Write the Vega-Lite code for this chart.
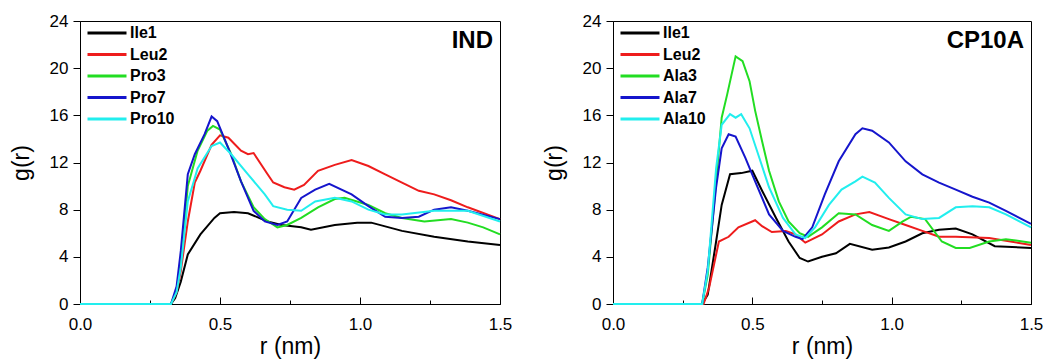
{
  "$schema": "https://vega.github.io/schema/vega-lite/v6.json",
  "padding": {"left": 9, "top": 11, "right": 0, "bottom": 0},
  "background": "#ffffff",
  "datasets": {
    "ind": [
      {"residue":"Ile1","r":0,"g":0},{"residue":"Ile1","r":0.325,"g":0},{"residue":"Ile1","r":0.34,"g":0.5},{"residue":"Ile1","r":0.36,"g":1.9},{"residue":"Ile1","r":0.385,"g":4.2},{"residue":"Ile1","r":0.43,"g":5.9},{"residue":"Ile1","r":0.48,"g":7.3},{"residue":"Ile1","r":0.5,"g":7.7},{"residue":"Ile1","r":0.55,"g":7.8},{"residue":"Ile1","r":0.6,"g":7.7},{"residue":"Ile1","r":0.67,"g":7.0},{"residue":"Ile1","r":0.72,"g":6.7},{"residue":"Ile1","r":0.79,"g":6.5},{"residue":"Ile1","r":0.825,"g":6.3},{"residue":"Ile1","r":0.91,"g":6.7},{"residue":"Ile1","r":0.99,"g":6.9},{"residue":"Ile1","r":1.04,"g":6.9},{"residue":"Ile1","r":1.15,"g":6.2},{"residue":"Ile1","r":1.265,"g":5.7},{"residue":"Ile1","r":1.385,"g":5.3},{"residue":"Ile1","r":1.5,"g":5.0},
      {"residue":"Leu2","r":0,"g":0},{"residue":"Leu2","r":0.325,"g":0},{"residue":"Leu2","r":0.345,"g":1.0},{"residue":"Leu2","r":0.36,"g":2.8},{"residue":"Leu2","r":0.385,"g":7.0},{"residue":"Leu2","r":0.41,"g":10.3},{"residue":"Leu2","r":0.43,"g":11.3},{"residue":"Leu2","r":0.47,"g":13.5},{"residue":"Leu2","r":0.5,"g":14.3},{"residue":"Leu2","r":0.53,"g":14.1},{"residue":"Leu2","r":0.575,"g":13.0},{"residue":"Leu2","r":0.6,"g":12.7},{"residue":"Leu2","r":0.62,"g":12.8},{"residue":"Leu2","r":0.67,"g":11.0},{"residue":"Leu2","r":0.69,"g":10.3},{"residue":"Leu2","r":0.73,"g":9.9},{"residue":"Leu2","r":0.765,"g":9.7},{"residue":"Leu2","r":0.8,"g":10.1},{"residue":"Leu2","r":0.85,"g":11.3},{"residue":"Leu2","r":0.91,"g":11.8},{"residue":"Leu2","r":0.97,"g":12.2},{"residue":"Leu2","r":1.03,"g":11.7},{"residue":"Leu2","r":1.09,"g":11.0},{"residue":"Leu2","r":1.15,"g":10.3},{"residue":"Leu2","r":1.21,"g":9.6},{"residue":"Leu2","r":1.265,"g":9.3},{"residue":"Leu2","r":1.325,"g":8.8},{"residue":"Leu2","r":1.385,"g":8.2},{"residue":"Leu2","r":1.5,"g":7.2},
      {"residue":"Pro3","r":0,"g":0},{"residue":"Pro3","r":0.325,"g":0},{"residue":"Pro3","r":0.345,"g":1.2},{"residue":"Pro3","r":0.36,"g":3.6},{"residue":"Pro3","r":0.385,"g":10.0},{"residue":"Pro3","r":0.42,"g":13.0},{"residue":"Pro3","r":0.455,"g":14.7},{"residue":"Pro3","r":0.475,"g":15.1},{"residue":"Pro3","r":0.5,"g":14.8},{"residue":"Pro3","r":0.54,"g":12.7},{"residue":"Pro3","r":0.575,"g":10.4},{"residue":"Pro3","r":0.62,"g":8.2},{"residue":"Pro3","r":0.66,"g":7.2},{"residue":"Pro3","r":0.705,"g":6.5},{"residue":"Pro3","r":0.74,"g":6.7},{"residue":"Pro3","r":0.79,"g":7.3},{"residue":"Pro3","r":0.85,"g":8.2},{"residue":"Pro3","r":0.91,"g":8.9},{"residue":"Pro3","r":0.945,"g":9.0},{"residue":"Pro3","r":1.03,"g":8.4},{"residue":"Pro3","r":1.09,"g":7.7},{"residue":"Pro3","r":1.15,"g":7.3},{"residue":"Pro3","r":1.23,"g":7.0},{"residue":"Pro3","r":1.325,"g":7.2},{"residue":"Pro3","r":1.385,"g":6.9},{"residue":"Pro3","r":1.44,"g":6.5},{"residue":"Pro3","r":1.5,"g":5.9},
      {"residue":"Pro7","r":0,"g":0},{"residue":"Pro7","r":0.325,"g":0},{"residue":"Pro7","r":0.345,"g":1.5},{"residue":"Pro7","r":0.36,"g":4.5},{"residue":"Pro7","r":0.385,"g":11.0},{"residue":"Pro7","r":0.41,"g":12.7},{"residue":"Pro7","r":0.445,"g":14.4},{"residue":"Pro7","r":0.47,"g":15.9},{"residue":"Pro7","r":0.49,"g":15.5},{"residue":"Pro7","r":0.53,"g":13.2},{"residue":"Pro7","r":0.575,"g":10.4},{"residue":"Pro7","r":0.62,"g":7.9},{"residue":"Pro7","r":0.66,"g":7.0},{"residue":"Pro7","r":0.705,"g":6.7},{"residue":"Pro7","r":0.74,"g":7.0},{"residue":"Pro7","r":0.79,"g":9.0},{"residue":"Pro7","r":0.84,"g":9.7},{"residue":"Pro7","r":0.89,"g":10.2},{"residue":"Pro7","r":0.97,"g":9.3},{"residue":"Pro7","r":1.03,"g":8.3},{"residue":"Pro7","r":1.09,"g":7.4},{"residue":"Pro7","r":1.15,"g":7.3},{"residue":"Pro7","r":1.21,"g":7.4},{"residue":"Pro7","r":1.265,"g":8.0},{"residue":"Pro7","r":1.325,"g":8.2},{"residue":"Pro7","r":1.385,"g":7.9},{"residue":"Pro7","r":1.5,"g":7.2},
      {"residue":"Pro10","r":0,"g":0},{"residue":"Pro10","r":0.325,"g":0},{"residue":"Pro10","r":0.345,"g":1.0},{"residue":"Pro10","r":0.36,"g":3.1},{"residue":"Pro10","r":0.385,"g":8.7},{"residue":"Pro10","r":0.42,"g":11.5},{"residue":"Pro10","r":0.47,"g":13.4},{"residue":"Pro10","r":0.5,"g":13.7},{"residue":"Pro10","r":0.54,"g":12.7},{"residue":"Pro10","r":0.6,"g":11.0},{"residue":"Pro10","r":0.66,"g":9.3},{"residue":"Pro10","r":0.69,"g":8.3},{"residue":"Pro10","r":0.74,"g":8.0},{"residue":"Pro10","r":0.79,"g":7.9},{"residue":"Pro10","r":0.84,"g":8.7},{"residue":"Pro10","r":0.91,"g":9.0},{"residue":"Pro10","r":0.97,"g":8.7},{"residue":"Pro10","r":1.03,"g":8.0},{"residue":"Pro10","r":1.09,"g":7.6},{"residue":"Pro10","r":1.15,"g":7.6},{"residue":"Pro10","r":1.265,"g":7.9},{"residue":"Pro10","r":1.385,"g":7.9},{"residue":"Pro10","r":1.5,"g":7.0}
    ],
    "cp10a": [
      {"residue":"Ile1","r":0,"g":0},{"residue":"Ile1","r":0.32,"g":0},{"residue":"Ile1","r":0.34,"g":0.8},{"residue":"Ile1","r":0.37,"g":5.3},{"residue":"Ile1","r":0.39,"g":8.4},{"residue":"Ile1","r":0.42,"g":11.0},{"residue":"Ile1","r":0.46,"g":11.1},{"residue":"Ile1","r":0.5,"g":11.3},{"residue":"Ile1","r":0.535,"g":9.6},{"residue":"Ile1","r":0.585,"g":7.3},{"residue":"Ile1","r":0.63,"g":5.3},{"residue":"Ile1","r":0.67,"g":3.9},{"residue":"Ile1","r":0.7,"g":3.6},{"residue":"Ile1","r":0.75,"g":4.0},{"residue":"Ile1","r":0.8,"g":4.3},{"residue":"Ile1","r":0.85,"g":5.1},{"residue":"Ile1","r":0.93,"g":4.6},{"residue":"Ile1","r":0.99,"g":4.8},{"residue":"Ile1","r":1.05,"g":5.3},{"residue":"Ile1","r":1.11,"g":6.0},{"residue":"Ile1","r":1.17,"g":6.3},{"residue":"Ile1","r":1.23,"g":6.4},{"residue":"Ile1","r":1.29,"g":5.9},{"residue":"Ile1","r":1.37,"g":4.9},{"residue":"Ile1","r":1.5,"g":4.75},
      {"residue":"Leu2","r":0,"g":0},{"residue":"Leu2","r":0.325,"g":0},{"residue":"Leu2","r":0.345,"g":1.4},{"residue":"Leu2","r":0.38,"g":5.3},{"residue":"Leu2","r":0.415,"g":5.7},{"residue":"Leu2","r":0.45,"g":6.5},{"residue":"Leu2","r":0.51,"g":7.1},{"residue":"Leu2","r":0.535,"g":6.6},{"residue":"Leu2","r":0.57,"g":6.1},{"residue":"Leu2","r":0.62,"g":6.2},{"residue":"Leu2","r":0.655,"g":5.9},{"residue":"Leu2","r":0.69,"g":5.2},{"residue":"Leu2","r":0.75,"g":5.9},{"residue":"Leu2","r":0.81,"g":7.0},{"residue":"Leu2","r":0.87,"g":7.6},{"residue":"Leu2","r":0.92,"g":7.8},{"residue":"Leu2","r":0.99,"g":7.2},{"residue":"Leu2","r":1.05,"g":6.7},{"residue":"Leu2","r":1.11,"g":6.2},{"residue":"Leu2","r":1.17,"g":5.7},{"residue":"Leu2","r":1.23,"g":5.7},{"residue":"Leu2","r":1.35,"g":5.6},{"residue":"Leu2","r":1.5,"g":5.0},
      {"residue":"Ala3","r":0,"g":0},{"residue":"Ala3","r":0.32,"g":0},{"residue":"Ala3","r":0.34,"g":2.5},{"residue":"Ala3","r":0.37,"g":10.4},{"residue":"Ala3","r":0.39,"g":15.8},{"residue":"Ala3","r":0.41,"g":17.8},{"residue":"Ala3","r":0.44,"g":21.0},{"residue":"Ala3","r":0.465,"g":20.6},{"residue":"Ala3","r":0.49,"g":18.9},{"residue":"Ala3","r":0.51,"g":16.4},{"residue":"Ala3","r":0.535,"g":13.8},{"residue":"Ala3","r":0.56,"g":11.3},{"residue":"Ala3","r":0.595,"g":8.7},{"residue":"Ala3","r":0.63,"g":7.0},{"residue":"Ala3","r":0.67,"g":6.0},{"residue":"Ala3","r":0.7,"g":5.7},{"residue":"Ala3","r":0.75,"g":6.5},{"residue":"Ala3","r":0.81,"g":7.7},{"residue":"Ala3","r":0.87,"g":7.6},{"residue":"Ala3","r":0.93,"g":6.7},{"residue":"Ala3","r":0.99,"g":6.2},{"residue":"Ala3","r":1.04,"g":7.0},{"residue":"Ala3","r":1.07,"g":7.4},{"residue":"Ala3","r":1.12,"g":7.2},{"residue":"Ala3","r":1.18,"g":5.3},{"residue":"Ala3","r":1.23,"g":4.75},{"residue":"Ala3","r":1.28,"g":4.75},{"residue":"Ala3","r":1.35,"g":5.3},{"residue":"Ala3","r":1.41,"g":5.5},{"residue":"Ala3","r":1.5,"g":5.2},
      {"residue":"Ala7","r":0,"g":0},{"residue":"Ala7","r":0.32,"g":0},{"residue":"Ala7","r":0.34,"g":3.1},{"residue":"Ala7","r":0.37,"g":9.9},{"residue":"Ala7","r":0.39,"g":13.2},{"residue":"Ala7","r":0.415,"g":14.4},{"residue":"Ala7","r":0.44,"g":14.2},{"residue":"Ala7","r":0.475,"g":12.4},{"residue":"Ala7","r":0.51,"g":10.4},{"residue":"Ala7","r":0.56,"g":7.6},{"residue":"Ala7","r":0.61,"g":6.2},{"residue":"Ala7","r":0.655,"g":5.7},{"residue":"Ala7","r":0.68,"g":5.5},{"residue":"Ala7","r":0.715,"g":6.5},{"residue":"Ala7","r":0.76,"g":9.3},{"residue":"Ala7","r":0.81,"g":12.1},{"residue":"Ala7","r":0.87,"g":14.4},{"residue":"Ala7","r":0.895,"g":14.9},{"residue":"Ala7","r":0.93,"g":14.7},{"residue":"Ala7","r":0.99,"g":13.7},{"residue":"Ala7","r":1.05,"g":12.1},{"residue":"Ala7","r":1.11,"g":11.0},{"residue":"Ala7","r":1.17,"g":10.3},{"residue":"Ala7","r":1.23,"g":9.7},{"residue":"Ala7","r":1.29,"g":9.1},{"residue":"Ala7","r":1.35,"g":8.6},{"residue":"Ala7","r":1.41,"g":7.9},{"residue":"Ala7","r":1.5,"g":6.8},
      {"residue":"Ala10","r":0,"g":0},{"residue":"Ala10","r":0.32,"g":0},{"residue":"Ala10","r":0.34,"g":2.8},{"residue":"Ala10","r":0.37,"g":11.5},{"residue":"Ala10","r":0.39,"g":15.2},{"residue":"Ala10","r":0.42,"g":16.1},{"residue":"Ala10","r":0.44,"g":15.8},{"residue":"Ala10","r":0.46,"g":16.1},{"residue":"Ala10","r":0.49,"g":14.9},{"residue":"Ala10","r":0.525,"g":12.4},{"residue":"Ala10","r":0.56,"g":9.9},{"residue":"Ala10","r":0.61,"g":7.3},{"residue":"Ala10","r":0.655,"g":5.9},{"residue":"Ala10","r":0.69,"g":5.6},{"residue":"Ala10","r":0.725,"g":6.5},{"residue":"Ala10","r":0.775,"g":8.4},{"residue":"Ala10","r":0.82,"g":9.7},{"residue":"Ala10","r":0.87,"g":10.4},{"residue":"Ala10","r":0.895,"g":10.8},{"residue":"Ala10","r":0.94,"g":10.3},{"residue":"Ala10","r":0.99,"g":9.0},{"residue":"Ala10","r":1.05,"g":7.6},{"residue":"Ala10","r":1.11,"g":7.2},{"residue":"Ala10","r":1.17,"g":7.3},{"residue":"Ala10","r":1.23,"g":8.2},{"residue":"Ala10","r":1.29,"g":8.3},{"residue":"Ala10","r":1.35,"g":8.2},{"residue":"Ala10","r":1.41,"g":7.6},{"residue":"Ala10","r":1.5,"g":6.5}
    ]
  },
  "hconcat": [
    {
      "width": 420, "height": 283,
      "layer": [
        {
          "data": {"name": "ind"},
          "mark": {"type": "line", "strokeWidth": 2},
          "encoding": {
            "x": {"field": "r", "type": "quantitative", "scale": {"domain": [0, 1.5], "nice": false},
              "axis": {"title": "r (nm)", "values": [0, 0.25, 0.5, 0.75, 1, 1.25, 1.5],
                "labelExpr": "round(datum.value*4) % 2 === 0 ? format(datum.value, '.1f') : ''",
                "tickSize": {"condition": {"test": "round(datum.value*4) % 2 === 0", "value": -7}, "value": -4},
                "labelPadding": 19, "titlePadding": 0}},
            "y": {"field": "g", "type": "quantitative", "scale": {"domain": [0, 24], "nice": false},
              "axis": {"title": "g(r)", "values": [0,2,4,6,8,10,12,14,16,18,20,22,24],
                "labelExpr": "datum.value % 4 === 0 ? datum.label : ''",
                "tickSize": {"condition": {"test": "datum.value % 4 === 0", "value": 7}, "value": 4},
                "labelPadding": 5, "titlePadding": 16}},
            "color": {"field": "residue", "type": "nominal",
              "scale": {"domain": ["Ile1", "Leu2", "Pro3", "Pro7", "Pro10"], "range": ["#000000", "#ee1c1c", "#22dd22", "#1515cc", "#22eeee"]},
              "legend": {"orient": "none", "legendX": 19, "legendY": 4, "title": null, "symbolType": "M-3,0H3", "symbolSize": 169, "symbolStrokeWidth": 3, "labelFontSize": 16, "labelFontWeight": "bold", "labelFont": "Liberation Sans", "labelColor": "#000", "rowPadding": 5.5, "padding": 0, "labelOffset": 15}}
          }
        },
        {
          "data": {"values": [{}]},
          "mark": {"type": "text", "text": "IND", "font": "Liberation Sans", "fontSize": 24, "fontWeight": "bold", "align": "right", "baseline": "middle", "color": "#000"},
          "encoding": {"x": {"datum": 1.475, "type": "quantitative"}, "y": {"datum": 22.3, "type": "quantitative"}}
        }
      ]
    },
    {
      "width": 418, "height": 283,
      "layer": [
        {
          "data": {"name": "cp10a"},
          "mark": {"type": "line", "strokeWidth": 2},
          "encoding": {
            "x": {"field": "r", "type": "quantitative", "scale": {"domain": [0, 1.5], "nice": false},
              "axis": {"title": "r (nm)", "values": [0, 0.25, 0.5, 0.75, 1, 1.25, 1.5],
                "labelExpr": "round(datum.value*4) % 2 === 0 ? format(datum.value, '.1f') : ''",
                "tickSize": {"condition": {"test": "round(datum.value*4) % 2 === 0", "value": -7}, "value": -4},
                "labelPadding": 19, "titlePadding": 0}},
            "y": {"field": "g", "type": "quantitative", "scale": {"domain": [0, 24], "nice": false},
              "axis": {"title": "g(r)", "values": [0,2,4,6,8,10,12,14,16,18,20,22,24],
                "labelExpr": "datum.value % 4 === 0 ? datum.label : ''",
                "tickSize": {"condition": {"test": "datum.value % 4 === 0", "value": 7}, "value": 4},
                "labelPadding": 5, "titlePadding": 16}},
            "color": {"field": "residue", "type": "nominal",
              "scale": {"domain": ["Ile1", "Leu2", "Ala3", "Ala7", "Ala10"], "range": ["#000000", "#ee1c1c", "#22dd22", "#1515cc", "#22eeee"]},
              "legend": {"orient": "none", "legendX": 19, "legendY": 4, "title": null, "symbolType": "M-3,0H3", "symbolSize": 169, "symbolStrokeWidth": 3, "labelFontSize": 16, "labelFontWeight": "bold", "labelFont": "Liberation Sans", "labelColor": "#000", "rowPadding": 5.5, "padding": 0, "labelOffset": 15}}
          }
        },
        {
          "data": {"values": [{}]},
          "mark": {"type": "text", "text": "CP10A", "font": "Liberation Sans", "fontSize": 24, "fontWeight": "bold", "align": "right", "baseline": "middle", "color": "#000"},
          "encoding": {"x": {"datum": 1.475, "type": "quantitative"}, "y": {"datum": 22.3, "type": "quantitative"}}
        }
      ]
    }
  ],
  "spacing": 29,
  "resolve": {"scale": {"color": "independent"}},
  "config": {
    "font": "Liberation Sans",
    "view": {"stroke": "#000000", "strokeWidth": 1},
    "axis": {"grid": false, "domainColor": "#000", "tickColor": "#000", "labelColor": "#000", "titleColor": "#000",
      "labelFont": "Liberation Sans", "titleFont": "Liberation Sans", "labelFontSize": 17, "titleFontSize": 23,
      "titleFontWeight": "normal", "labelFlush": false, "labelOverlap": false, "domainWidth": 1, "tickWidth": 1}
  }
}
